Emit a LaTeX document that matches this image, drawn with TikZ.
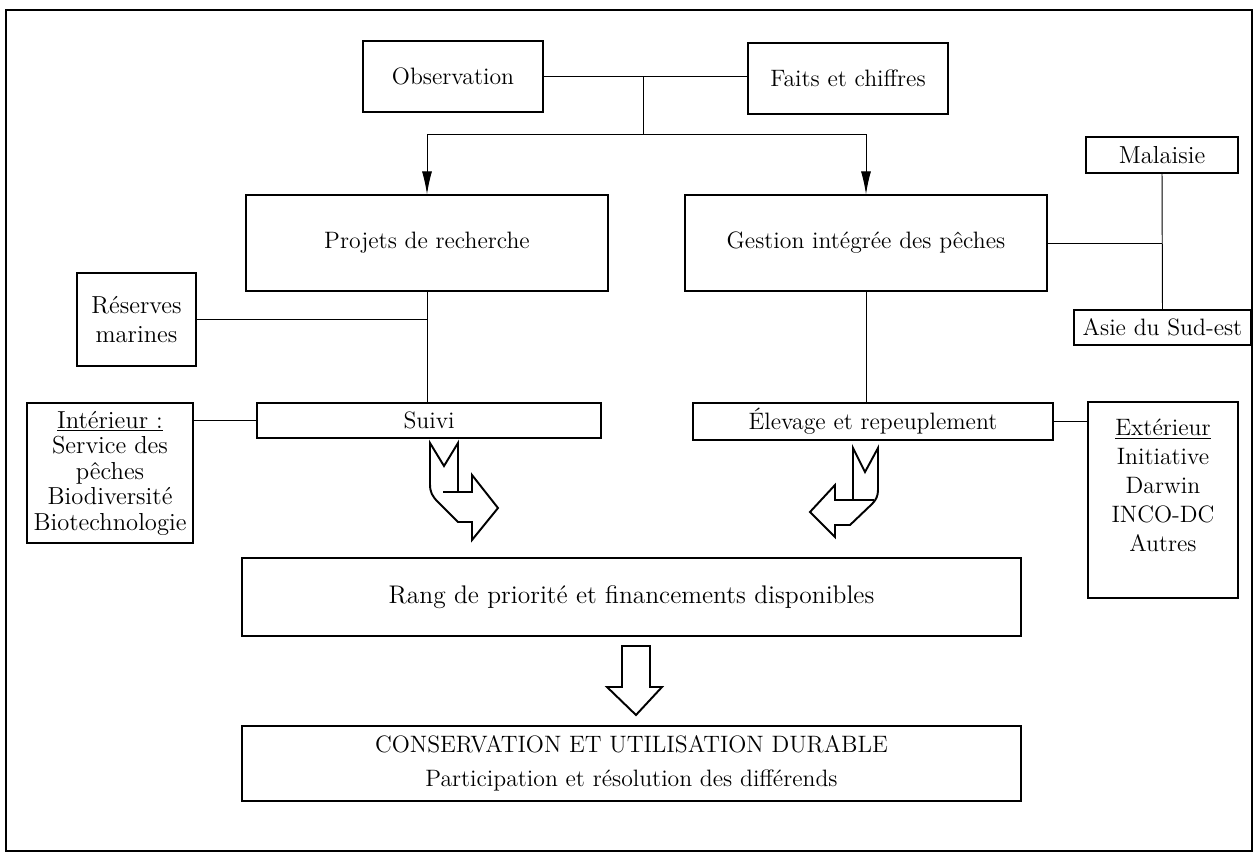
\documentclass[tikz,border=0pt]{standalone}
\usepackage{tikz}
\usetikzlibrary{positioning,calc,arrows.meta}

\begin{document}
\begin{tikzpicture}[
    x=0.02cm, y=-0.02cm,
    box/.style={draw, line width=0.7pt, align=center, inner sep=2pt, font=\fontsize{13.5}{16}\selectfont},
    link/.style={draw, line width=0.55pt},
    drop/.style={draw, line width=0.55pt, -{Latex[length=4.6mm,width=2mm]}},
    fat/.style={draw, line width=1.1pt, fill=white, line join=miter}
]
\useasboundingbox (0,0) rectangle (1259,859);

% Outer frame
\draw[line width=0.7pt] (6,10) rectangle (1252,851);

% Define node positions
\node[box, minimum width=3.6cm, minimum height=1.42cm] (obs) at (453,76.5) {Observation};
\node[box, minimum width=4cm, minimum height=1.42cm] (faits) at (848,78.5) {Faits et chiffres};
\node[box, minimum width=7.24cm, minimum height=1.92cm] (projets) at (427,243) {Projets de recherche};
\node[box, minimum width=7.24cm, minimum height=1.92cm] (gestion) at (866,243) {Gestion intégrée des pêches};
\node[box, minimum width=3.04cm, minimum height=0.72cm, font=\fontsize{14}{16}\selectfont] (malaisie) at (1162,155) {Malaisie};
\node[box, minimum width=3.54cm, minimum height=0.7cm] (asie) at (1162.5,327.5) {Asie du Sud-est};
\node[box, minimum width=2.38cm, minimum height=1.86cm, font=\fontsize{14}{17}\selectfont] (reserves) at (136.5,319.5) {Réserves\\marines};
\node[box, minimum width=6.88cm, minimum height=0.7cm] (suivi) at (429,420.5) {Suivi};
\node[box, minimum width=7.2cm, minimum height=0.74cm] (elevage) at (873,421.5) {Élevage et repeuplement};
\node[box, minimum width=3.32cm, minimum height=2.8cm, font=\fontsize{14}{14.5}\selectfont] (interieur) at (110,473)
    {\underline{Intérieur :}\\Service des\\pêches\\Biodiversité\\Biotechnologie};
\node[box, minimum width=3cm, minimum height=3.92cm, font=\fontsize{13.5}{16.5}\selectfont] (exterieur) at (1163,500)
    {\underline{Extérieur}\\Initiative\\Darwin\\INCO-DC\\Autres\\\mbox{}};
\node[box, minimum width=15.58cm, minimum height=1.56cm, font=\fontsize{14.5}{17}\selectfont] (rang) at (631.5,597)
    {Rang de priorité et financements disponibles};
\node[box, minimum width=15.58cm, minimum height=1.5cm] (conservation) at (631.5,763.5)
    {CONSERVATION ET UTILISATION DURABLE\\[3pt]Participation et résolution des différends};

% Junction points
\coordinate (top) at (643,76.5);
\coordinate (split) at (643,134);

% Connectors
\draw[link] (obs.east) -- (obs.east -| faits.west);
\draw[link] (top) -- (split);
\draw[drop] (split) -| (projets.north);
\draw[drop] (split) -| (gestion.north);
\draw[link] (gestion.east) -- (gestion.east -| malaisie.south);
\draw[link] (malaisie.south) -- (asie.north);
\draw[link] (projets.south) -- (projets.south |- suivi.north);
\draw[link] (reserves.east) -- (reserves.east -| projets.south);
\draw[link] (gestion.south) -- (gestion.south |- elevage.north);
\draw[link] (interieur.east |- suivi.west) -- (suivi.west);
\draw[link] (elevage.east) -- (elevage.east -| exterieur.west);

% Bent block arrows
\draw[fat] (430,443) -- (444,466) -- (458,443) -- (458,492) -- (472,492) -- (472,475)
    -- (498,508) -- (472,540) -- (472,522) -- (458,522) -- (438,502)
    .. controls (432,496) and (430,492) .. (430,484) -- cycle;
\draw[fat] (443,492) -- (458,492);
\draw[fat] (853,448) -- (865,472) -- (878,448) -- (878,490)
    .. controls (878,496) and (876,500) .. (872,504) -- (850,525) -- (835,525)
    -- (835,537) -- (810,512) -- (835,485) -- (835,500) -- (853,500) -- cycle;
\draw[fat] (853,500) -- (874,500);

% Straight block arrow
\draw[fat] (622,646) -- (650,646) -- (650,687) -- (662,687) -- (636,715)
    -- (607,687) -- (622,687) -- cycle;

\end{tikzpicture}
\end{document}
